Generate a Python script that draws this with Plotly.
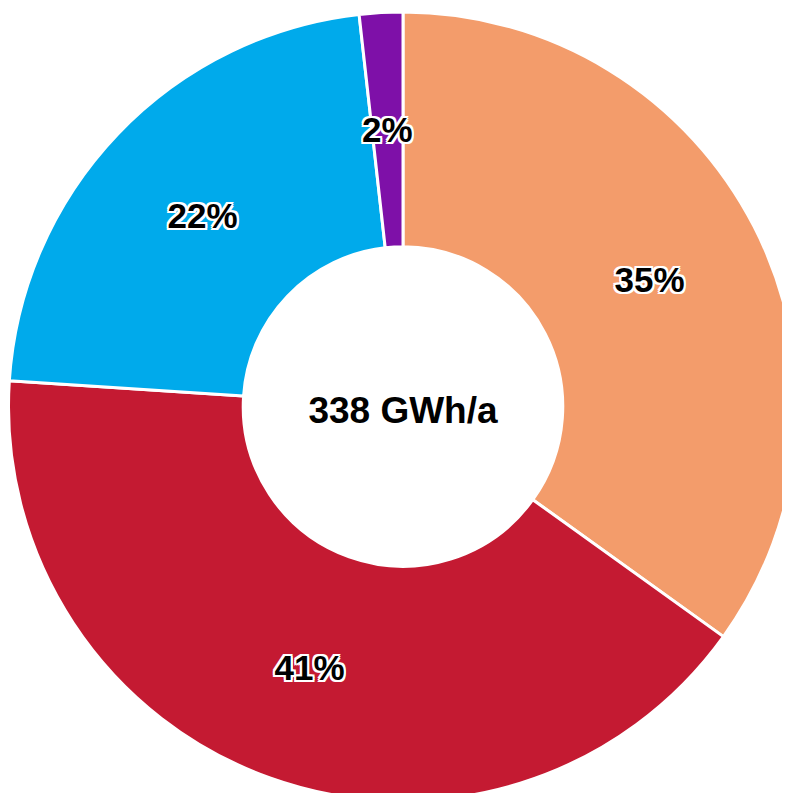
import math
import plotly.graph_objects as go

# Data
categories = ["A", "B", "C", "D"]
values = [118, 139, 75, 6]          # GWh/a, total 338
colors = ["#F39C6B", "#C41A32", "#00AAEB", "#7E10A8"]
center_label = "338 GWh/a"

W, H = 790, 793
HOLE = 0.405
FONT = "Liberation Sans, Arial, sans-serif"
DOM_X = [0, 1]
DOM_Y = [0, 789 / 793]

shadow = ", ".join(f"{dx}px {dy}px 0 white" for dx, dy in
                   [(-2, -2), (2, -2), (-2, 2), (2, 2), (0, 2), (2, 0), (-2, 0), (0, -2)])

total = sum(values)
# thin slices get their label placed by annotation at mid-ring
small = [v / total < 0.05 for v in values]
templates = ["" if s else "%{percent:.0%}" for s in small]

fig = go.Figure(go.Pie(
    labels=categories,
    values=values,
    sort=False,
    direction="clockwise",
    rotation=0,
    hole=HOLE,
    marker=dict(colors=colors, line=dict(color="white", width=3)),
    textposition="inside",
    insidetextorientation="horizontal",
    texttemplate=templates,
    textfont=dict(family=FONT, size=35, color="black", weight="bold", shadow=shadow),
    title=dict(text="<b>" + center_label + "</b>", position="middle center",
               font=dict(family=FONT, size=37, color="black")),
    domain=dict(x=DOM_X, y=DOM_Y),
    showlegend=False,
    hoverinfo="label+percent+value",
))

# annotation labels for thin slices (position derived from the data)
dw = W * (DOM_X[1] - DOM_X[0])
dh = H * (DOM_Y[1] - DOM_Y[0])
R = min(dw, dh) / 2
cx = W * DOM_X[0] + dw / 2
cy = H * DOM_Y[0] + dh / 2
cum = 0
annotations = []
for v, s in zip(values, small):
    if s:
        frac = (cum + v / 2) / total
        th = 2 * math.pi * frac
        r = R * (1 + HOLE) / 2
        x = cx + r * math.sin(th)
        y = cy + r * math.cos(th)
        annotations.append(dict(
            x=x / W, y=y / H, xref="paper", yref="paper", showarrow=False,
            xanchor="center", yanchor="middle",
            text=f"{round(100 * v / total)}%",
            font=dict(family=FONT, size=35, color="black", weight="bold", shadow=shadow),
        ))
    cum += v

fig.update_layout(
    width=W, height=H,
    margin=dict(l=0, r=0, t=0, b=0),
    paper_bgcolor="white",
    plot_bgcolor="white",
    uniformtext=dict(minsize=35, mode="show"),
    annotations=annotations,
)

fig.write_html("out.html")
